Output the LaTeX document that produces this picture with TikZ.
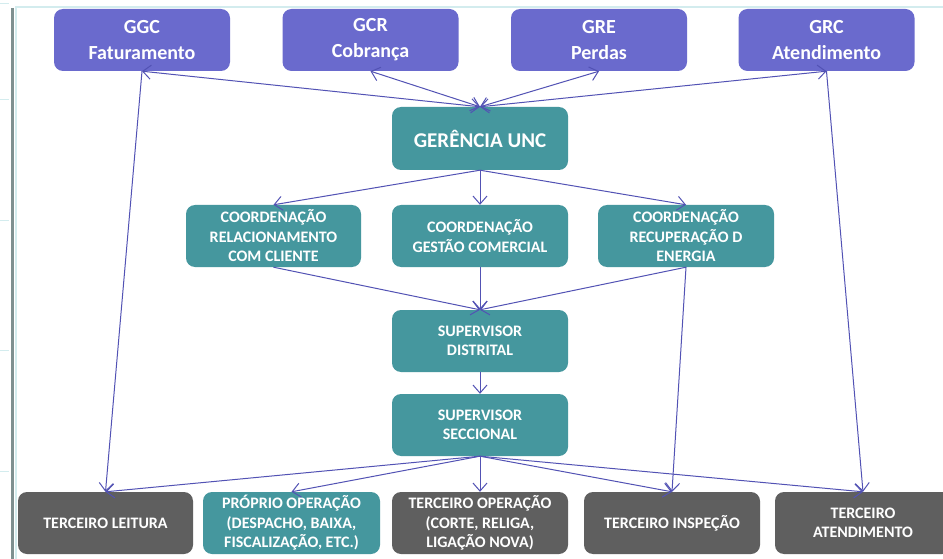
\documentclass[tikz,border=0pt]{standalone}
\usepackage{fontspec}
\setmainfont{Carlito}
\usetikzlibrary{arrows.meta}

\definecolor{boss}{HTML}{6A6ACD}
\definecolor{unit}{HTML}{45979E}
\definecolor{field}{HTML}{5F5F5F}
\definecolor{link}{HTML}{5252B4}
\definecolor{rim}{HTML}{D3ECEE}
\definecolor{rail}{HTML}{7E9090}

\begin{document}
\begin{tikzpicture}[x=1pt,y=-1pt,
  box/.style={rounded corners=9pt, minimum width=176pt, minimum height=62pt,
    inner sep=0pt, align=center, text=white,
    font=\bfseries\fontsize{16}{19.5}\selectfont},
  topbox/.style={box, fill=boss, font=\bfseries\fontsize{20}{26}\selectfont},
  midbox/.style={box, fill=unit},
  lowbox/.style={box, fill=field},
  >={Straight Barb[length=8pt,width=14pt]},
  conn/.style={draw=link, line width=1pt}]

\clip (0,0) rectangle (943,559);
\fill[white] (0,0) rectangle (943,559);

% window frame on the left and top
\draw[rail, line width=3pt] (12,8) -- (12,559);
\draw[rim, line width=2pt] (16,559) -- (16,7) -- (943,7);
\foreach \yy in {4,100,220,350,471}
  \draw[rim, line width=1pt] (0,\yy) -- (9,\yy);

% management row
\node[topbox] (ggc) at (142,40)   {GGC\\Faturamento};
\node[topbox] (gcr) at (370.5,40) {GCR\\Cobrança};
\node[topbox] (gre) at (599,40)   {GRE\\Perdas};
\node[topbox] (grc) at (826.5,40) {GRC\\Atendimento};

\node[midbox, minimum height=63pt, font=\bfseries\fontsize{21}{25}\selectfont]
  (unc) at (480,138.5) {GERÊNCIA UNC};

% coordination row
\node[midbox, minimum width=175pt] (crel) at (273.5,236) {COORDENAÇÃO\\RELACIONAMENTO\\COM CLIENTE};
\node[midbox] (cges) at (480,236) {COORDENAÇÃO\\GESTÃO COMERCIAL};
\node[midbox] (crec) at (686,236) {COORDENAÇÃO\\RECUPERAÇÃO D\\ENERGIA};

% supervision
\node[midbox] (sdis) at (480,341) {SUPERVISOR\\DISTRITAL};
\node[midbox] (ssec) at (480,425) {SUPERVISOR\\SECCIONAL};

% field teams
\node[lowbox, minimum width=175pt] (tl) at (105.5,523) {TERCEIRO LEITURA};
\node[midbox, minimum width=177pt] (po) at (291.5,523) {PRÓPRIO OPERAÇÃO\\(DESPACHO, BAIXA,\\FISCALIZAÇÃO, ETC.)};
\node[lowbox] (to) at (480,523) {TERCEIRO OPERAÇÃO\\(CORTE, RELIGA,\\LIGAÇÃO NOVA)};
\node[lowbox] (ti) at (672,523) {TERCEIRO INSPEÇÃO};
\node[lowbox] (ta) at (863,523) {TERCEIRO\\ATENDIMENTO};

% management <-> unit
\foreach \g in {ggc,gcr,gre,grc}
  \draw[conn, <->] (\g.south) -- (unc.north);

% unit -> coordinations -> district supervisor
\foreach \c in {crel,cges,crec} {
  \draw[conn, ->] (unc.south) -- (\c.north);
  \draw[conn, ->] (\c.south) -- (sdis.north);
}
\draw[conn, ->] (sdis.south) -- (ssec.north);

% sectional supervisor -> field teams
\foreach \t in {tl,po,to,ti,ta}
  \draw[conn, ->] (ssec.south) -- (\t.north);

% direct lines to the field teams
\draw[conn, ->] (ggc.south) -- (tl.north);
\draw[conn, ->] (grc.south) -- (ta.north);
\draw[conn, ->] (crec.south) -- (ti.north);
\end{tikzpicture}
\end{document}
